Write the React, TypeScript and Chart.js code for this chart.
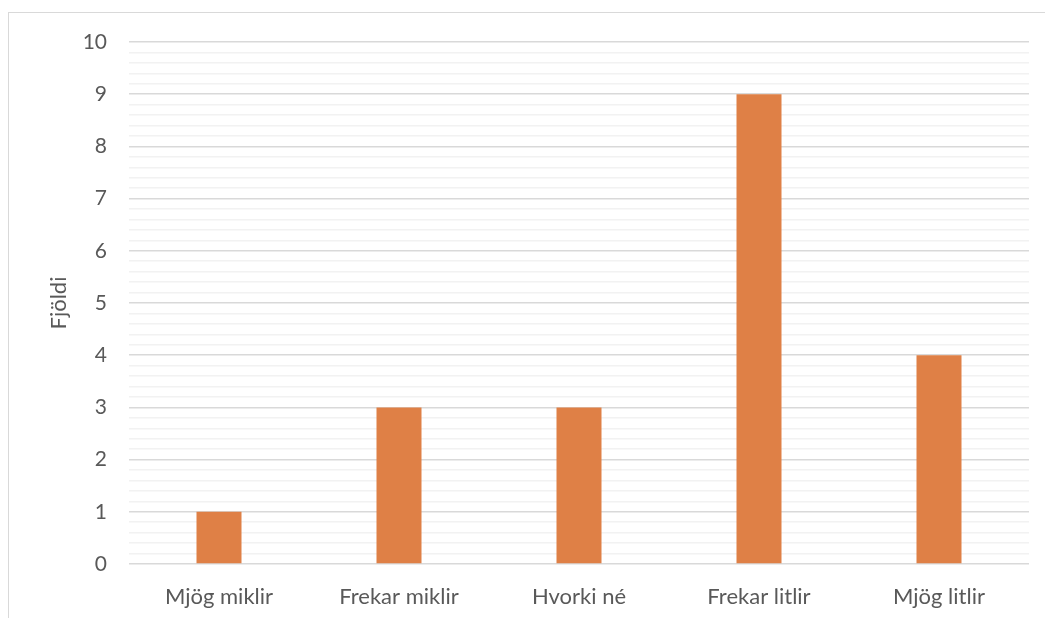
import React, { useEffect, useRef } from "react";
import { Chart, registerables } from "chart.js";

Chart.register(...registerables);

const categories = ["Mjög miklir", "Frekar miklir", "Hvorki né", "Frekar litlir", "Mjög litlir"];
const counts = [1, 3, 3, 9, 4];
const yTitle = "Fjöldi";
const yMin = 0;
const yMax = 10;
const minorStep = 0.2;

const FONT = "Lato, 'Liberation Sans', sans-serif";

const isMajor = (v: number) => Math.abs(v - Math.round(v)) < 1e-6;

export default function App() {
  const ref = useRef<HTMLCanvasElement | null>(null);

  useEffect(() => {
    if (!ref.current) return;
    const chart = new Chart(ref.current, {
      type: "bar",
      data: {
        labels: categories,
        datasets: [
          {
            label: yTitle,
            data: counts,
            backgroundColor: "#DF8046",
            categoryPercentage: 1,
            barPercentage: 0.25,
          },
        ],
      },
      options: {
        animation: false,
        responsive: false,
        maintainAspectRatio: false,
        layout: { padding: { left: 20, right: 17, top: 42, bottom: 0 } },
        plugins: { legend: { display: false }, tooltip: { enabled: false } },
        scales: {
          x: {
            grid: { display: false, drawTicks: false },
            border: { display: false },
            ticks: {
              color: "#595959",
              font: { family: FONT, size: 22 },
              padding: 20,
              maxRotation: 0,
            },
            afterFit: (s: any) => {
              s.height = 55;
            },
          },
          y: {
            min: yMin,
            max: yMax,
            grid: {
              drawTicks: false,
              color: (ctx: any) => (isMajor(ctx.tick?.value ?? 0) ? "#D9D9D9" : "#F2F2F2"),
              lineWidth: 1.5,
            },
            border: { display: false },
            ticks: {
              stepSize: minorStep,
              autoSkip: false,
              color: "#595959",
              font: { family: FONT, size: 21 },
              padding: 22,
              callback: (v: any) => (isMajor(Number(v)) ? String(Math.round(Number(v))) : ""),
            },
            title: {
              display: true,
              text: yTitle,
              color: "#595959",
              font: { family: FONT, size: 22 },
              padding: { top: 26, bottom: 0 },
            },
            afterFit: (s: any) => {
              s.width = 109;
            },
          },
        },
      },
    });
    return () => chart.destroy();
  }, []);

  return (
    <>
      <div
        style={{
          position: "absolute",
          left: 8,
          top: 12,
          width: 1037,
          height: 606,
          borderTop: "1.5px solid #D9D9D9",
          borderLeft: "1.5px solid #D9D9D9",
          boxSizing: "border-box",
        }}
      />
      <canvas
        ref={ref}
        width={1046}
        height={619}
        style={{ position: "absolute", left: 0, top: 0, width: 1046, height: 619 }}
      />
    </>
  );
}
